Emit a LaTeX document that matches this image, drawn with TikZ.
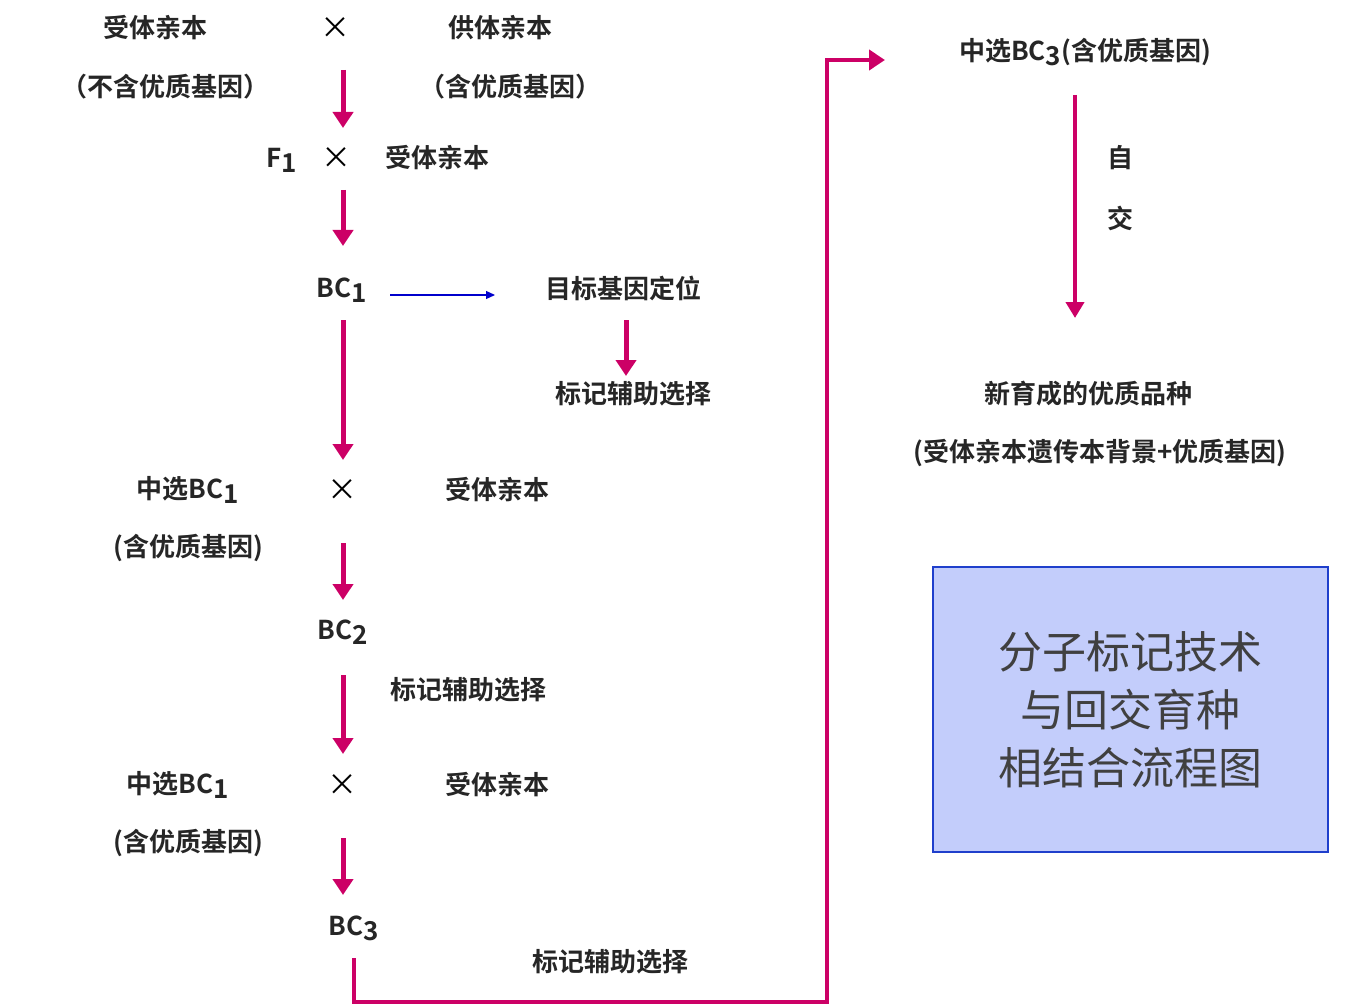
\documentclass[tikz,border=0pt]{standalone}
\usepackage{fontspec}
\setmainfont{Noto Sans CJK SC}
\newfontfamily\cjkbold{Noto Sans CJK SC Bold}
\usetikzlibrary{arrows.meta}
\definecolor{flowred}{HTML}{CC0066}
\definecolor{boxfill}{HTML}{C3CDFB}
\definecolor{boxline}{HTML}{1F3FCC}
\newcommand{\sub}[1]{\raisebox{-0.35ex}{#1}}
\tikzset{
  lbl/.style={font=\cjkbold\fontsize{26}{30}\selectfont, text=black!85, inner sep=0pt},
  crs/.style={font=\fontsize{30}{30}\selectfont, inner sep=0pt},
  down/.style={flowred, line width=5pt, -{Triangle[width=20pt,length=16pt]}},
}
\begin{document}
\begin{tikzpicture}[x=1pt,y=-1pt]
\useasboundingbox (0,0) rectangle (1359,1008);
% top cross
\node[lbl] (rec0) at (155,28) {受体亲本};
\node[crs] (x0) at (335,28) {×};
\node[lbl] (don) at (500,28) {供体亲本};
\node[lbl] (rec0b) at (165,87) {（不含优质基因）};
\node[lbl] (donb) at (510,87) {（含优质基因）};
\draw[down] (343,70) -- (343,128);
% F1
\node[lbl] (f1) at (282,160) {F\sub{1}};
\node[crs] (x1) at (336,158) {×};
\node[lbl] (rec1) at (437,158) {受体亲本};
\draw[down] (343,190) -- (343,246);
% BC1
\node[lbl] (bc1) at (342,290) {BC\sub{1}};
\node[lbl] (loc) at (623,288) {目标基因定位};
\draw[blue!80!black, line width=1.2pt, -{Triangle[width=8pt,length=9pt]}] (390,295) -- (495,295);
\draw[down] (626,320) -- (626,376);
\node[lbl] (mas1) at (633,394) {标记辅助选择};
\draw[down] (343,320) -- (343,460);
% BC1 x recurrent
\node[lbl] (sel1) at (188,490) {中选BC\sub{1}};
\node[crs] (x2) at (342,490) {×};
\node[lbl] (rec2) at (497,490) {受体亲本};
\node[lbl] (sel1b) at (188,548) {(含优质基因)};
\draw[down] (343,543) -- (343,600);
\node[lbl] (bc2) at (343,632) {BC\sub{2}};
\draw[down] (343,675) -- (343,754);
\node[lbl] (mas2) at (468,690) {标记辅助选择};
% BC2 x recurrent
\node[lbl] (sel2) at (178,785) {中选BC\sub{1}};
\node[crs] (x3) at (342,785) {×};
\node[lbl] (rec3) at (497,785) {受体亲本};
\node[lbl] (sel2b) at (188,843) {(含优质基因)};
\draw[down] (343,838) -- (343,895);
\node[lbl] (bc3) at (354,928) {BC\sub{3}};
\node[lbl] (mas3) at (610,962) {标记辅助选择};
\draw[flowred, line width=4pt, -{Triangle[width=20pt,length=16pt]}]
  (354,958) -- (354,1002) -- (827,1002) -- (827,60) -- (885,60);
% right column
\node[lbl] (sel3) at (1085,52) {中选BC\sub{3}(含优质基因)};
\draw[flowred, line width=4pt, -{Triangle[width=18pt,length=16pt]}] (1075,95) -- (1075,318);
\node[lbl] (zi) at (1120,158) {自};
\node[lbl] (jiao) at (1120,218) {交};
\node[lbl] (new) at (1088,394) {新育成的优质品种};
\node[lbl] (newb) at (1100,453) {(受体亲本遗传本背景+优质基因)};
% title box
\node[draw=boxline, line width=1.5pt, fill=boxfill, minimum width=395pt, minimum height=285pt,
  align=center, font=\fontsize{44}{58}\selectfont, text=black!75] (title) at (1130.5,709.5)
  {分子标记技术\\与回交育种\\相结合流程图};
\end{tikzpicture}
\end{document}
